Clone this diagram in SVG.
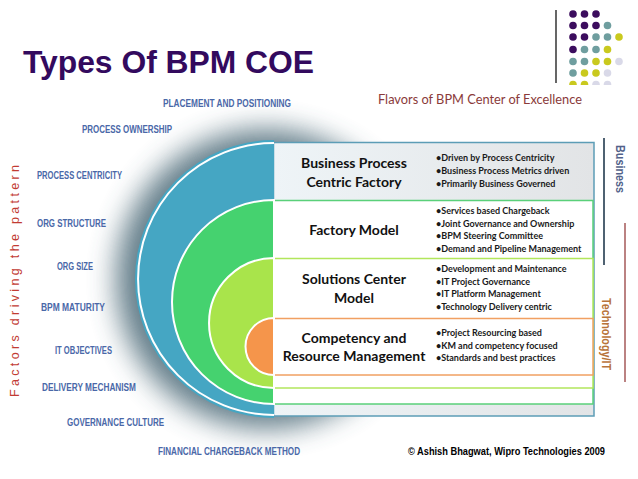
<svg xmlns="http://www.w3.org/2000/svg" width="638" height="479" viewBox="0 0 638 479">
<defs>
  <style>
    .title{font-family:"Liberation Sans",Arial,sans-serif;font-weight:bold;fill:#330a5e;}
    .factor{font-family:"Liberation Sans",Arial,sans-serif;font-weight:bold;font-size:11px;fill:#4a68a8;}
    .head{font-family:Lato,"Liberation Sans",sans-serif;font-weight:bold;font-size:14px;fill:#111;text-anchor:middle;}
    .bul{font-family:Lato,"Liberation Sans",sans-serif;font-weight:bold;font-size:9px;fill:#1a1a1a;}
    .flav{font-family:Lato,"Liberation Sans",sans-serif;font-size:13.5px;fill:#8a3a3a;}
    .side{font-family:"Liberation Sans",Arial,sans-serif;font-weight:bold;font-size:12px;}
    .dp{fill:#3c0d5e;} .dt{fill:#6f9e9f;} .dy{fill:#c9c91e;} .dl{fill:#d9d9e8;}
  </style>
  <filter id="glow" x="-50%" y="-50%" width="200%" height="200%">
    <feGaussianBlur stdDeviation="14"/>
  </filter>
  <linearGradient id="grayg" x1="0" y1="0" x2="1" y2="0">
    <stop offset="0" stop-color="#eef4f7"/>
    <stop offset="1" stop-color="#e2e4e6"/>
  </linearGradient>
  <clipPath id="dotclip"><rect x="560" y="0" width="78" height="85"/></clipPath>
</defs>
<rect width="638" height="479" fill="#ffffff"/>

<!-- title -->
<text class="title" x="23" y="73" font-size="31" textLength="291" lengthAdjust="spacingAndGlyphs">Types Of BPM COE</text>

<!-- logo -->
<g id="logo">
  <line x1="556" y1="10" x2="556" y2="83" stroke="#000" stroke-width="1.2"/>
  <g clip-path="url(#dotclip)">
    <circle class="dp" cx="573" cy="14" r="3.8"/><circle class="dp" cx="584.5" cy="14" r="3.8"/><circle class="dp" cx="596" cy="14" r="3.8"/>
    <circle class="dp" cx="573" cy="25.5" r="3.8"/><circle class="dp" cx="584.5" cy="25.5" r="3.8"/><circle class="dp" cx="596" cy="25.5" r="3.8"/><circle class="dt" cx="607.5" cy="25.5" r="3.8"/>
    <circle class="dp" cx="573" cy="37" r="3.8"/><circle class="dp" cx="584.5" cy="37" r="3.8"/><circle class="dt" cx="596" cy="37" r="3.8"/><circle class="dt" cx="607.5" cy="37" r="3.8"/><circle class="dy" cx="619" cy="37" r="3.8"/>
    <circle class="dp" cx="573" cy="49.5" r="3.8"/><circle class="dt" cx="584.5" cy="49.5" r="3.8"/><circle class="dt" cx="596" cy="49.5" r="3.8"/><circle class="dy" cx="607.5" cy="49.5" r="3.8"/>
    <circle class="dt" cx="573" cy="61.5" r="3.8"/><circle class="dt" cx="584.5" cy="61.5" r="3.8"/><circle class="dy" cx="596" cy="61.5" r="3.8"/><circle class="dy" cx="607.5" cy="61.5" r="3.8"/><circle class="dl" cx="619" cy="61.5" r="3.8"/>
    <circle class="dt" cx="573" cy="73" r="3.8"/><circle class="dy" cx="584.5" cy="73" r="3.8"/><circle class="dy" cx="596" cy="73" r="3.8"/><circle class="dl" cx="607.5" cy="73" r="3.8"/>
    <circle class="dy" cx="573" cy="84.5" r="3.8"/><circle class="dy" cx="584.5" cy="84.5" r="3.8"/><circle class="dl" cx="596" cy="84.5" r="3.8"/><circle class="dl" cx="607.5" cy="84.5" r="3.8"/>
  </g>
</g>

<text class="flav" x="378" y="104" textLength="204" lengthAdjust="spacingAndGlyphs">Flavors of BPM Center of Excellence</text>

<!-- glow -->
<circle cx="266" cy="279" r="150" fill="#4a6876" opacity="0.85" filter="url(#glow)"/>

<!-- boxes -->
<g id="box-bpcf">
  <rect x="273.5" y="142.5" width="320.5" height="273.5" fill="url(#grayg)" stroke="#5c9db6" stroke-width="1.5"/>
  <text class="head" x="354" y="168">Business Process</text>
  <text class="head" x="354" y="187">Centric Factory</text>
  <text class="bul" x="436" y="161">•Driven by Process Centricity</text>
  <text class="bul" x="436" y="174">•Business Process Metrics driven</text>
  <text class="bul" x="436" y="187">•Primarily Business Governed</text>
</g>
<g id="box-factory">
  <rect x="273.5" y="200.5" width="319.5" height="203.5" fill="#ffffff" stroke="#5ad07a" stroke-width="1.5"/>
  <text class="head" x="354" y="235">Factory Model</text>
  <text class="bul" x="436" y="214">•Services based Chargeback</text>
  <text class="bul" x="436" y="227">•Joint Governance and Ownership</text>
  <text class="bul" x="436" y="239">•BPM Steering Committee</text>
  <text class="bul" x="436" y="252">•Demand and Pipeline Management</text>
</g>
<g id="box-solutions">
  <rect x="273.5" y="258.5" width="319.5" height="129.5" fill="#ffffff" stroke="#b2e65c" stroke-width="1.5"/>
  <text class="head" x="354" y="284">Solutions Center</text>
  <text class="head" x="354" y="303">Model</text>
  <text class="bul" x="436" y="272">•Development and Maintenance</text>
  <text class="bul" x="436" y="285">•IT Project Governance</text>
  <text class="bul" x="436" y="297">•IT Platform Management</text>
  <text class="bul" x="436" y="310">•Technology Delivery centric</text>
</g>
<g id="box-competency">
  <rect x="273.5" y="318.5" width="319.5" height="56.5" fill="#ffffff" stroke="#f1a062" stroke-width="1.5"/>
  <text class="head" x="354" y="343">Competency and</text>
  <text class="head" x="354" y="361">Resource Management</text>
  <text class="bul" x="436" y="336">•Project Resourcing based</text>
  <text class="bul" x="436" y="349">•KM and competency focused</text>
  <text class="bul" x="436" y="361">•Standards and best practices</text>
</g>

<!-- semicircles -->
<g id="arcs">
  <path d="M274,140 A139,139 0 0 0 274,418 Z" fill="#45a6c3"/>
  <path d="M274,143 A136,136 0 0 0 274,415" fill="none" stroke="#ffffff" stroke-width="2"/>
  <path d="M274,200 A102,102 0 0 0 274,404 Z" fill="#45d26f" stroke="#ffffff" stroke-width="2"/>
  <path d="M274,258 A65,65 0 0 0 274,388 Z" fill="#a9e44b" stroke="#ffffff" stroke-width="2"/>
  <path d="M274,318 A28.5,28.5 0 0 0 274,375 Z" fill="#f5954b" stroke="#ffffff" stroke-width="2"/>
</g>

<!-- factors -->
<g id="factors">
  <text class="factor" x="163" y="107" textLength="128" lengthAdjust="spacingAndGlyphs">PLACEMENT AND POSITIONING</text>
  <text class="factor" x="82" y="133" textLength="90" lengthAdjust="spacingAndGlyphs">PROCESS OWNERSHIP</text>
  <text class="factor" x="37" y="179" textLength="85" lengthAdjust="spacingAndGlyphs">PROCESS CENTRICITY</text>
  <text class="factor" x="37" y="227" textLength="69" lengthAdjust="spacingAndGlyphs">ORG STRUCTURE</text>
  <text class="factor" x="57" y="270" textLength="36" lengthAdjust="spacingAndGlyphs">ORG SIZE</text>
  <text class="factor" x="41" y="311" textLength="64" lengthAdjust="spacingAndGlyphs">BPM MATURITY</text>
  <text class="factor" x="55" y="354" textLength="57" lengthAdjust="spacingAndGlyphs">IT OBJECTIVES</text>
  <text class="factor" x="42" y="391" textLength="94" lengthAdjust="spacingAndGlyphs">DELIVERY MECHANISM</text>
  <text class="factor" x="67" y="426" textLength="97" lengthAdjust="spacingAndGlyphs">GOVERNANCE CULTURE</text>
  <text class="factor" x="158" y="455" textLength="142" lengthAdjust="spacingAndGlyphs">FINANCIAL CHARGEBACK METHOD</text>
</g>

<text x="0" y="0" transform="translate(19,397) rotate(-90)" font-family="'Liberation Sans',Arial,sans-serif" font-size="12.5" fill="#c23b33" textLength="232" lengthAdjust="spacing">Factors driving the pattern</text>

<!-- right side -->
<g id="side">
  <line x1="604" y1="138" x2="604" y2="265" stroke="#4f6272" stroke-width="2"/>
  <line x1="625" y1="223" x2="625" y2="382" stroke="#a45858" stroke-width="1.5"/>
  <text class="side" transform="translate(616,145) rotate(90)" fill="#52628a" textLength="48" lengthAdjust="spacingAndGlyphs">Business</text>
  <text class="side" transform="translate(602,298) rotate(90)" fill="#b8733a" textLength="72" lengthAdjust="spacingAndGlyphs">Technology/IT</text>
</g>

<text x="408" y="455" font-family="'Liberation Sans',Arial,sans-serif" font-weight="bold" font-size="10" fill="#000" textLength="197" lengthAdjust="spacingAndGlyphs">© Ashish Bhagwat, Wipro Technologies 2009</text>
</svg>
